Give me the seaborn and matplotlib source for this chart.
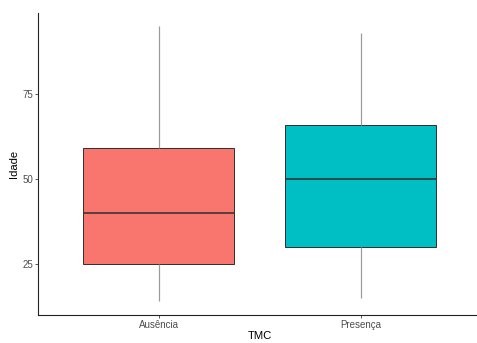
import matplotlib
matplotlib.use("Agg")
import matplotlib.pyplot as plt
import seaborn as sns
import pandas as pd

# Five-number summaries of age per TMC group (min, Q1, median, Q3, max)
grupos = ["Ausência", "Presença"]
idade_ausencia = [14, 25, 40, 59, 95]
idade_presenca = [15, 30, 50, 66, 93]
cores = ["#F8766D", "#00BFC4"]
y_ticks = [25, 50, 75]

df = pd.DataFrame({
    "TMC": [grupos[0]] * len(idade_ausencia) + [grupos[1]] * len(idade_presenca),
    "Idade": idade_ausencia + idade_presenca,
})

sns.set_theme(style="ticks")
plt.rcParams["font.family"] = ["Liberation Sans", "DejaVu Sans"]

W, H, DPI = 477, 343, 72
fig = plt.figure(figsize=(W / DPI, H / DPI), dpi=DPI)
left, right = 37.7 / W, 481.7 / W
bottom, top = 1 - 315 / H, 1 - 12.7 / H
ax = fig.add_axes([left, bottom, right - left, top - bottom])

edge = "#333333"
sns.boxplot(
    data=df, x="TMC", y="Idade", hue="TMC", palette=cores, legend=False,
    order=grupos, hue_order=grupos, width=0.75, whis=1.5, showcaps=False,
    saturation=1, linecolor=edge, linewidth=1.0, fliersize=0,
    whiskerprops=dict(color="#9a9a9a", linewidth=1.2),
    medianprops=dict(color=edge, linewidth=1.6),
    ax=ax,
)

ax.set_xlim(-0.6, 1.6)
ax.set_ylim(9.95, 99.0)
ax.set_yticks(y_ticks)
ax.set_yticklabels([str(t) for t in y_ticks])

for s in ["top", "right"]:
    ax.spines[s].set_visible(False)
for s in ["left", "bottom"]:
    ax.spines[s].set_color("#222222")
    ax.spines[s].set_linewidth(1.1)

ax.tick_params(axis="both", length=2.75, width=0.8, color="#333333",
               labelsize=9.8, labelcolor="#4d4d4d", pad=2)
ax.set_xlabel("TMC", fontsize=11.3, color="black", labelpad=1)
ax.set_ylabel("Idade", fontsize=11.3, color="black", labelpad=3)

fig.savefig("out.png", dpi=DPI)
